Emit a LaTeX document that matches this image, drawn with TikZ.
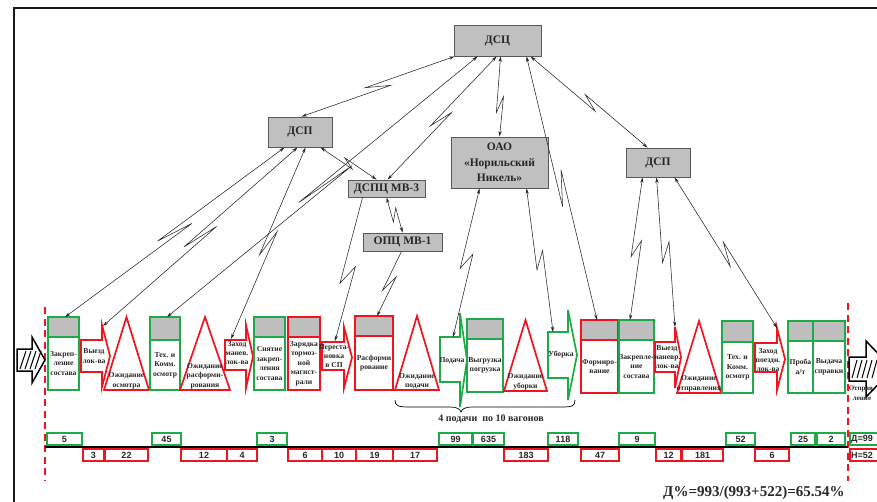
\documentclass[tikz,border=0pt]{standalone}
\usepackage{fontspec}
\setmainfont{Liberation Serif}
\newfontfamily\numfont{Liberation Sans}
\usetikzlibrary{calc,arrows.meta}
\definecolor{grn}{RGB}{30,170,70}
\definecolor{rd}{RGB}{240,20,30}
\definecolor{hdr}{RGB}{190,190,190}
\definecolor{topfill}{RGB}{192,192,192}
\definecolor{txt}{RGB}{40,40,40}
\tikzset{
 conn/.style={draw=black!85, line width=0.55pt, >={Stealth[length=5.5pt,width=3.2pt]}},
 bw/.style={line width=1.7pt},
 ptext/.style={font=\fontsize{7.6}{9.4}\selectfont\bfseries, text=txt, align=center, inner sep=0pt},
 topbox/.style={draw=black!65, fill=topfill, line width=0.9pt, inner sep=0pt, font=\fontsize{11.5}{15.5}\selectfont\bfseries, text=black!85, align=center},
 numtext/.style={font=\numfont\bfseries\fontsize{9}{10}\selectfont, text=txt, inner sep=0pt},
 nbox/.style={line width=1.3pt}
}
\newcommand\lnk[6]{\draw[conn,#1] (#2) -- ($(#2)!#4!(#3)!#5pt!(#3)!#6pt!-90:(#3)$) -- ($(#2)!#4!(#3)!-#5pt!(#3)!#6pt!90:(#3)$) -- (#3);}
\newcommand\PB[8]{%
 \fill[hdr] (#2,#4) rectangle (#3,#5);
 \draw[#7,bw] (#2,#4) rectangle (#3,#6);
 \draw[#7,bw] (#2,#5) -- (#3,#5);
 \node[ptext] (#1) at ({(#2+#3)/2},{(#5+#6)/2}) {#8};}
\newcommand\BA[8]{\draw[#8,bw,fill=white,line join=miter] (#1,#4) -- (#2,#4) -- (#2,#6) -- (#3,{(#6+#7)/2}) -- (#2,#7) -- (#2,#5) -- (#1,#5) -- cycle;}
\newcommand\TR[4]{\draw[rd,bw,fill=white,line join=miter] ({(#1+#2)/2},#3) -- (#2,#4) -- (#1,#4) -- cycle;}
\newcommand\NB[7]{\draw[#6,nbox] (#2,#4) rectangle (#3,#5); \node[numtext] (#1) at ({(#2+#3)/2},{(#4+#5)/2}) {#7};}
\begin{document}
\begin{tikzpicture}[x=1pt,y=-1pt]
\useasboundingbox (0,0) rectangle (877,501);
\fill[white] (0,0) rectangle (877,501);
\draw[line width=2.2pt, black!90] (14,503) -- (14,8) -- (879,8);

% top nodes
\node[topbox,minimum width=87,minimum height=31] (dsc) at (497.5,40.5) {ДСЦ};
\node[topbox,minimum width=64,minimum height=30] (dspl) at (300,132) {ДСП};
\node[topbox,minimum width=77,minimum height=17] (dspc) at (386.5,188.5) {ДСПЦ МВ-3};
\node[topbox,minimum width=79,minimum height=18] (opc) at (402.5,242) {ОПЦ МВ-1};
\node[topbox,minimum width=97,minimum height=51] (oao) at (499.5,162.5) {ОАО\\«Норильский\\Никель»};
\node[topbox,minimum width=64,minimum height=29] (dspr) at (658,162.5) {ДСП};

% dashed limits
\draw[rd, line width=2.2pt, dash pattern=on 7pt off 4.5pt] (45,307) -- (45,481);
\draw[rd, line width=2.2pt, dash pattern=on 7pt off 4.5pt] (848,303) -- (848,481);

% entrance arrow
\draw[black,line width=1.5pt,fill=white,line join=miter] (17,349) -- (32,349) -- (32,337) -- (45,360) -- (32,383) -- (32,371) -- (17,371) -- cycle;
\foreach \i in {20,25,30,35} \draw[line width=1pt] (\i,369) -- (\i+6,351);

% process row
\PB{b1}{48}{79}{317}{337}{390}{grn}{Закреп-\\ление\\состава}
\BA{81}{102}{110}{340}{372}{325}{387}{rd}
\node[ptext] (a1) at (94,356) {Выезд\\лок-ва};
\TR{104}{149}{317}{390}
\node[ptext,anchor=south] (t1) at (126.5,389) {Ожидание\\осмотра};
\PB{b2}{150}{180}{317}{340}{390}{grn}{Тех. и\\Комм.\\осмотр}
\TR{180}{230}{317}{390}
\node[ptext,anchor=south] (t2) at (205,389) {Ожидание\\расформи-\\рования};
\BA{225}{246}{253}{340}{370}{325}{388}{rd}
\node[ptext] (a2) at (237,353) {Заход\\манев.\\лок-ва};
\PB{b3}{254}{285}{317}{337}{390}{grn}{Снятие\\закреп-\\ления\\состава}
\PB{b4}{288}{320}{317}{337}{390}{rd}{Зарядка\\тормоз-\\ной\\магист-\\рали}
\BA{322}{344}{352}{342}{370}{327}{388}{rd}
\node[ptext] (a3) at (334,356) {Переста-\\новка\\в СП};
\PB{b5}{355}{393}{316}{336}{390}{rd}{Расформи\\рование}
\TR{395}{439}{316}{390}
\node[ptext,anchor=south] (t3) at (417,389) {Ожидание\\подачи};
\BA{440}{460}{467}{337}{382}{313}{407}{grn}
\node[ptext] (a4) at (452,361) {Подача};
\PB{b6}{467}{503}{319}{339}{392}{grn}{Выгрузка\\погрузка}
\TR{504}{547}{320}{391}
\node[ptext,anchor=south] (t4) at (525.5,390) {Ожидание\\уборки};
\BA{548}{568}{577}{332}{378}{310}{400}{grn}
\node[ptext] (a5) at (561,355) {Уборка};
\PB{b7}{581}{618}{320}{340}{393}{rd}{Формиро-\\вание}
\PB{b8}{619}{654}{320}{340}{393}{grn}{Закрепле-\\ние\\состава}
\BA{655}{675}{681}{342}{372}{327}{388}{rd}
\node[ptext] (a6) at (667,357) {Выезд\\маневр.\\лок-ва};
\TR{677}{721}{321}{393}
\node[ptext,anchor=south] (t5) at (699,392) {Ожидание\\отправления};
\PB{b9}{722}{753}{321}{342}{393}{grn}{Тех. и\\Комм.\\осмотр}
\BA{755}{777}{785}{343}{372}{328}{390}{rd}
\node[ptext] (a7) at (768,360) {Заход\\поездн.\\лок-ва};
\PB{b10}{788}{813}{321}{341}{393}{grn}{Проба\\а/т}
\PB{b11}{813}{845}{321}{341}{393}{grn}{Выдача\\справки}

% exit arrow
\draw[black,line width=1.5pt,fill=white,line join=miter] (849,357) -- (866,357) -- (866,341) -- (893,369) -- (866,397) -- (866,381) -- (849,381) -- cycle;
\foreach \i in {852,857,862,867,872} \draw[line width=1pt] (\i,378) -- (\i+5,360);
\node[font=\fontsize{7}{10.5}\selectfont\bfseries, text=txt, align=center, inner sep=0pt] (otpr) at (862,393) {Отправ-\\ление};

% brace and note
\draw[line width=0.7pt] (395,400) .. controls (395,406) and (398,407) .. (410,407) -- (450,407) .. controls (457,407) and (460,409) .. (461,412) .. controls (462,409) and (465,407) .. (472,407) -- (562,407) .. controls (572,407) and (575,406) .. (575,400);
\node[font=\fontsize{10}{11}\selectfont\bfseries, text=txt, inner sep=0] (note) at (491,419) {4 подачи\enspace по 10 вагонов};

% connector end points
\coordinate (dA) at ($(dsc.south west)+(1,0)$);
\coordinate (dB) at ($(dsc.south west)+(24,0)$);
\coordinate (dC) at ($(dsc.south west)+(43,0)$);
\coordinate (dD) at ($(dsc.south west)+(47,0)$);
\coordinate (dE) at ($(dsc.south west)+(73,0)$);
\coordinate (dF) at ($(dsc.south west)+(77,0)$);
\coordinate (lT) at ($(dspl.north west)+(34,0)$);
\coordinate (l1) at ($(dspl.south west)+(17,0)$);
\coordinate (l2) at ($(dspl.south west)+(30,0)$);
\coordinate (l3) at ($(dspl.south west)+(38,0)$);
\coordinate (l4) at ($(dspl.south west)+(53,0)$);
\coordinate (cT1) at ($(dspc.north west)+(40,0)$);
\coordinate (cT2) at ($(dspc.north west)+(29,0)$);
\coordinate (cB1) at ($(dspc.south west)+(15,0)$);
\coordinate (cB2) at ($(dspc.south west)+(39,0)$);
\coordinate (oT) at ($(opc.north west)+(40,0)$);
\coordinate (oB) at ($(opc.south west)+(39,0)$);
\coordinate (aT) at ($(oao.north west)+(49,0)$);
\coordinate (aB1) at ($(oao.south west)+(29,0)$);
\coordinate (aB2) at ($(oao.south west)+(76,0)$);
\coordinate (rT) at ($(dspr.north west)+(22,0)$);
\coordinate (rB1) at ($(dspr.south west)+(17,0)$);
\coordinate (rB2) at ($(dspr.south west)+(31,0)$);
\coordinate (rB3) at ($(dspr.south west)+(49,0)$);
\coordinate (pB1) at (65,317);
\coordinate (pA1) at (103,326);
\coordinate (pB2) at (167,317);
\coordinate (pA2) at (231,339);
\coordinate (pA3) at (335,341);
\coordinate (pB5) at (377,316);
\coordinate (pA4) at (453,337);
\coordinate (pA5) at (553,332);
\coordinate (pB7) at (597,320);
\coordinate (pB8) at (630,320);
\coordinate (pA6) at (675,327);
\coordinate (pA7) at (777,328);

% connectors
\lnk{<->}{dA}{lT}{0.5}{12}{3.5}
\lnk{<->}{dB}{pB2}{0.49}{32}{3}
\lnk{<->}{dC}{cT1}{0.51}{12}{3.5}
\lnk{<->}{dD}{aT}{0.6}{8}{3.5}
\lnk{<->}{dE}{pB7}{0.5}{18}{4}
\lnk{<->}{dF}{rT}{0.51}{9}{3.5}
\lnk{<->}{l1}{pB1}{0.5}{19}{3.5}
\lnk{<->}{l2}{pA1}{0.5}{19}{3.5}
\lnk{<->}{l3}{pA2}{0.5}{14}{4}
\lnk{<->}{l4}{cT2}{0.5}{6}{3}
\lnk{->}{cB1}{pA3}{0.54}{9.5}{6}
\lnk{<->}{cB2}{oT}{0.5}{6}{4}
\lnk{->}{oB}{pB5}{0.5}{9}{4}
\lnk{<->}{aB1}{pA4}{0.49}{8}{5}
\lnk{<->}{aB2}{pA5}{0.5}{9}{4.5}
\lnk{<->}{rB1}{pB8}{0.5}{8.5}{4.5}
\lnk{<->}{rB2}{pA6}{0.5}{10}{4.5}
\lnk{<->}{rB3}{pA7}{0.51}{12}{4}

% time scale
\draw[line width=1.8pt, black] (45,447) -- (848,447);
\NB{g1}{47}{82}{433}{445}{grn}{5}
\NB{g2}{152}{181}{433}{445}{grn}{45}
\NB{g3}{257}{287}{433}{445}{grn}{3}
\NB{g4}{439}{472}{433}{445}{grn}{99}
\NB{g5}{473}{504}{433}{445}{grn}{635}
\NB{g6}{548}{578}{433}{445}{grn}{118}
\NB{g7}{619}{655}{433}{445}{grn}{9}
\NB{g8}{726}{755}{433}{445}{grn}{52}
\NB{g9}{791}{815}{433}{445}{grn}{25}
\NB{g10}{817}{845}{433}{445}{grn}{2}
\NB{r1}{83}{104}{449}{461}{rd}{3}
\NB{r2}{105}{148}{449}{461}{rd}{22}
\NB{r3}{181}{227}{449}{461}{rd}{12}
\NB{r4}{227}{257}{449}{461}{rd}{4}
\NB{r5}{288}{322}{449}{461}{rd}{6}
\NB{r6}{322}{356}{449}{461}{rd}{10}
\NB{r7}{356}{393}{449}{461}{rd}{19}
\NB{r8}{393}{437}{449}{461}{rd}{17}
\NB{r9}{504}{548}{449}{461}{rd}{183}
\NB{r10}{581}{619}{449}{461}{rd}{47}
\NB{r11}{656}{681}{449}{461}{rd}{12}
\NB{r12}{682}{723}{449}{461}{rd}{181}
\NB{r13}{755}{789}{449}{461}{rd}{6}
\draw[grn,nbox] (850,433) rectangle (882,445);
\node[numtext,anchor=west] (dsum) at (851,439) {Д=99};
\draw[rd,nbox] (850,449) rectangle (882,461);
\node[numtext,anchor=west] (nsum) at (851,455) {Н=52};

\node[font=\fontsize{15}{16}\selectfont\bfseries, text=txt, anchor=base west, inner sep=0] (frm) at (663,496) {Д\%=993/(993+522)=65.54\%};
\end{tikzpicture}
\end{document}
